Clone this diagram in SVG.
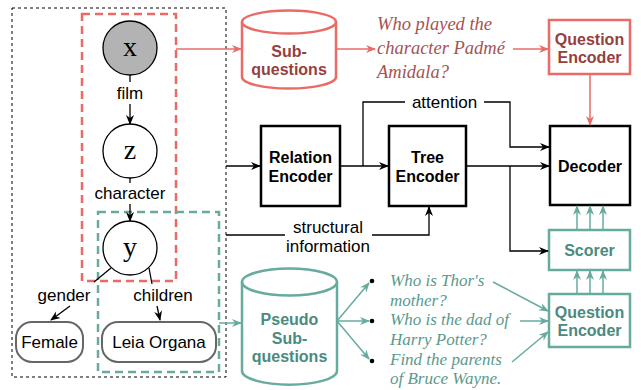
<svg xmlns="http://www.w3.org/2000/svg" width="641" height="390" viewBox="0 0 641 390">
<style>
.sans{font-family:"Liberation Sans",Arial,sans-serif}
.lbl{font-family:"Liberation Sans",Arial,sans-serif;font-size:17px;fill:#000;text-anchor:middle}
.bold{font-family:"Liberation Sans",Arial,sans-serif;font-size:16px;font-weight:bold;text-anchor:middle}
.var{font-family:"Liberation Serif","Times New Roman",serif;font-size:28px;text-anchor:middle}
.it{font-family:"Liberation Serif","Times New Roman",serif;font-style:italic}
.blk{fill:none;stroke:#000;stroke-width:1.3}
.red{fill:none;stroke:#ea6b66;stroke-width:1.5}
.teal{fill:none;stroke:#67ab9f;stroke-width:1.5}
.box{fill:#fff;stroke:#000;stroke-width:2.5}
.rbox{fill:#fff;stroke:#ea6b66;stroke-width:2.5}
.tbox{fill:#fff;stroke:#67ab9f;stroke-width:2.5}
.rt{fill:#953f3f}
.tt{fill:#4b8a7e}
.rit{fill:#a65353;font-size:18.5px}
.tit{fill:#5a9a8d;font-size:17px}
</style>
<defs>
<marker id="ab" markerWidth="10" markerHeight="10" refX="9" refY="5" orient="auto" markerUnits="userSpaceOnUse"><path d="M0,1 L10,5 L0,9 L3,5 z" fill="#000"/></marker>
<marker id="ar" markerWidth="10" markerHeight="10" refX="9" refY="5" orient="auto" markerUnits="userSpaceOnUse"><path d="M0,1 L10,5 L0,9 L3,5 z" fill="#ea6b66"/></marker>
<marker id="at" markerWidth="10" markerHeight="10" refX="9" refY="5" orient="auto" markerUnits="userSpaceOnUse"><path d="M0,1 L10,5 L0,9 L3,5 z" fill="#67ab9f"/></marker>
</defs>

<!-- containers -->
<g id="outer-box"><rect x="12" y="8" width="214" height="369" fill="none" stroke="#000" stroke-width="1" stroke-dasharray="3,3"/></g>
<g id="red-box"><rect x="82" y="14" width="94" height="267" fill="none" stroke="#ea6b66" stroke-width="2.5" stroke-dasharray="8,5"/></g>
<g id="teal-box"><rect x="98" y="212" width="121" height="160" fill="none" stroke="#67ab9f" stroke-width="2.5" stroke-dasharray="8,5"/></g>

<!-- graph nodes -->
<g id="node-x"><circle cx="130" cy="48" r="27" fill="#b3b3b3" stroke="#000" stroke-width="1.3"/><text class="var" x="130" y="56">x</text></g>
<g id="node-z"><circle cx="130" cy="151" r="27" fill="#fff" stroke="#000" stroke-width="1.3"/><text class="var" x="130" y="159">z</text></g>
<g id="node-y"><circle cx="130" cy="248" r="27" fill="#fff" stroke="#000" stroke-width="1.3"/><text class="var" x="130" y="256">y</text></g>
<g id="node-female"><rect x="16" y="322" width="67" height="40" rx="16" fill="#fff" stroke="#666" stroke-width="2"/><text class="sans" x="49.5" y="348" font-size="17" text-anchor="middle">Female</text></g>
<g id="node-leia"><rect x="102" y="322" width="114" height="40" rx="16" fill="#fff" stroke="#666" stroke-width="2"/><text class="sans" x="159" y="348" font-size="17" text-anchor="middle">Leia Organa</text></g>

<!-- pipeline nodes -->
<g id="subq"><path d="M242,22 L242,77 A47,11.5 0 0 0 336,77 L336,22" fill="#fff" stroke="#ea6b66" stroke-width="2.5"/><ellipse cx="289" cy="22" rx="47" ry="11.5" fill="#fff" stroke="#ea6b66" stroke-width="2.5"/><text class="bold rt" x="289" y="57" font-size="15">Sub-</text><text class="bold rt" x="289" y="75" font-size="15">questions</text></g>
<g id="qe-red"><rect x="549" y="20" width="81" height="54" class="rbox"/><text class="bold rt" x="589.5" y="45">Question</text><text class="bold rt" x="589.5" y="63">Encoder</text></g>
<g id="relation-enc"><rect x="261" y="126" width="79" height="80" class="box"/><text class="bold" x="300.5" y="163">Relation</text><text class="bold" x="300.5" y="182">Encoder</text></g>
<g id="tree-enc"><rect x="389" y="126" width="77" height="80" class="box"/><text class="bold" x="427.5" y="163">Tree</text><text class="bold" x="427.5" y="182">Encoder</text></g>
<g id="decoder"><rect x="550" y="126" width="80" height="79" class="box"/><text class="bold" x="590" y="172">Decoder</text></g>
<g id="scorer"><rect x="549" y="230" width="81" height="40" class="tbox"/><text class="bold tt" x="589.5" y="256">Scorer</text></g>
<g id="qe-teal"><rect x="549" y="294" width="81" height="53" class="tbox"/><text class="bold tt" x="589.5" y="318">Question</text><text class="bold tt" x="589.5" y="336">Encoder</text></g>
<g id="pseudo"><path d="M242,282 L242,371 A47,13.5 0 0 0 337,371 L337,282" fill="#fff" stroke="#67ab9f" stroke-width="2.5"/><ellipse cx="289.5" cy="282" rx="47.5" ry="13.5" fill="#fff" stroke="#67ab9f" stroke-width="2.5"/><text class="bold tt" x="289.5" y="325" font-size="15">Pseudo</text><text class="bold tt" x="289.5" y="344" font-size="15">Sub-</text><text class="bold tt" x="289.5" y="362" font-size="15">questions</text></g>

<!-- texts -->
<g id="red-question" class="it rit"><text x="377" y="30">Who played the</text><text x="377" y="54">character Padmé</text><text x="377" y="78">Amidala?</text></g>
<g id="pseudo-questions" class="it tit"><text x="390" y="286">Who is Thor's</text><text x="390" y="306">mother?</text><text x="390" y="325">Who is the dad of</text><text x="390" y="345">Harry Potter?</text><text x="390" y="365">Find the parents</text><text x="390" y="384">of Bruce Wayne.</text>
<circle cx="372" cy="281" r="2.3" fill="#000"/><circle cx="372" cy="321" r="2.3" fill="#000"/><circle cx="372" cy="361" r="2.3" fill="#000"/></g>

<!-- connectors -->
<g id="connectors">
<line x1="130" y1="75" x2="130" y2="82" class="blk"/>
<text class="lbl" x="130" y="99">film</text>
<line x1="130" y1="104" x2="130" y2="124" class="blk" marker-end="url(#ab)"/>
<line x1="130" y1="178" x2="130" y2="183" class="blk"/>
<text class="lbl" x="130" y="199">character</text>
<line x1="130" y1="204" x2="130" y2="221" class="blk" marker-end="url(#ab)"/>
<line x1="111" y1="268" x2="94" y2="282" class="blk"/>
<text class="lbl" x="64" y="301">gender</text>
<line x1="70" y1="306" x2="51" y2="320" class="blk" marker-end="url(#ab)"/>
<line x1="149" y1="268" x2="152" y2="284" class="blk"/>
<text class="lbl" x="163" y="301">children</text>
<line x1="157" y1="306" x2="160" y2="320" class="blk" marker-end="url(#ab)"/>

<line x1="176" y1="49" x2="241" y2="49" class="red" marker-end="url(#ar)"/>
<line x1="336" y1="49" x2="375" y2="49" class="red" marker-end="url(#ar)"/>
<line x1="513" y1="49" x2="548" y2="49" class="red" marker-end="url(#ar)"/>
<line x1="590" y1="74" x2="590" y2="125" class="red" marker-end="url(#ar)"/>

<line x1="226" y1="166" x2="260" y2="166" class="blk" marker-end="url(#ab)"/>
<line x1="340" y1="166" x2="388" y2="166" class="blk" marker-end="url(#ab)"/>
<polyline points="363,166 363,102 405,102" class="blk"/>
<text class="lbl" x="444.5" y="108">attention</text>
<polyline points="484,102 510,102 510,147 549,147" class="blk" marker-end="url(#ab)"/>
<line x1="466" y1="166" x2="549" y2="166" class="blk" marker-end="url(#ab)"/>
<polyline points="510,166 510,251 548,251" class="blk" marker-end="url(#ab)"/>
<polyline points="226,235 285,235" class="blk"/>
<text class="lbl" x="328" y="233">structural</text>
<text class="lbl" x="328" y="252">information</text>
<polyline points="372,235 429,235 429,207" class="blk" marker-end="url(#ab)"/>

<line x1="577" y1="230" x2="577" y2="206" class="teal" marker-end="url(#at)"/>
<line x1="590" y1="230" x2="590" y2="206" class="teal" marker-end="url(#at)"/>
<line x1="603" y1="230" x2="603" y2="206" class="teal" marker-end="url(#at)"/>
<line x1="577" y1="294" x2="577" y2="271" class="teal" marker-end="url(#at)"/>
<line x1="590" y1="294" x2="590" y2="271" class="teal" marker-end="url(#at)"/>
<line x1="603" y1="294" x2="603" y2="271" class="teal" marker-end="url(#at)"/>

<line x1="219" y1="323" x2="241" y2="323" class="teal" marker-end="url(#at)"/>
<line x1="337" y1="321" x2="369" y2="283" class="teal" marker-end="url(#at)"/>
<line x1="337" y1="321" x2="369" y2="321" class="teal" marker-end="url(#at)"/>
<line x1="337" y1="321" x2="369" y2="359" class="teal" marker-end="url(#at)"/>
<line x1="493" y1="282" x2="548" y2="311" class="teal" marker-end="url(#at)"/>
<line x1="520" y1="321" x2="548" y2="321" class="teal" marker-end="url(#at)"/>
<line x1="512" y1="362" x2="548" y2="332" class="teal" marker-end="url(#at)"/>
</g>
</svg>
